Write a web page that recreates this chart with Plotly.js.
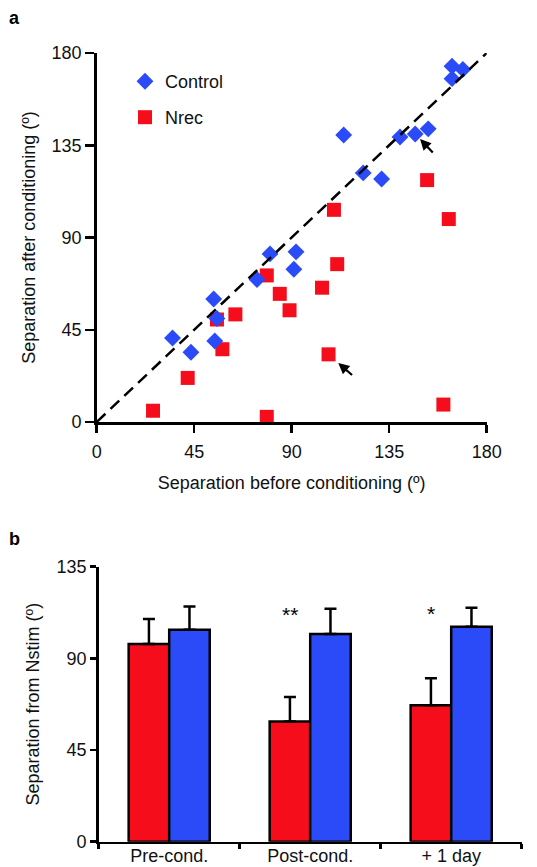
<!DOCTYPE html>
<html><head><meta charset="utf-8">
<script src="https://cdn.plot.ly/plotly-3.0.1.min.js"></script>
<style>html,body{margin:0;padding:0;background:#fff}#chart{width:537px;height:867px}</style>
</head><body><div id="chart"></div>
<script>
// Panel a: separation before vs after conditioning (degrees)
const controlBefore = [164, 169, 164, 114, 140, 147, 153, 123, 131.5, 80, 92, 91, 74, 54, 55.5, 54.5, 35, 43.5];
const controlAfter  = [173.5, 172, 167.5, 140, 139, 140.5, 143, 121.5, 118.5, 82, 83, 74.5, 69.5, 60, 50.5, 39.5, 41, 34];
const nrecBefore = [180.5, 152.5, 162.5, 109.5, 78.5, 111, 104, 84.5, 89, 64, 55.5, 58, 107, 42, 26, 78.5, 160];
const nrecAfter  = [147.5, 118, 99, 103.5, 71.5, 77, 65.5, 62.5, 54.5, 52.5, 50, 35.5, 33, 21.5, 5.5, 2.5, 8.5];
const identityLine = [0, 180];
const angleTicks = [0, 45, 90, 135, 180];

// Panel b: separation from Nstim (degrees), mean + s.e.m.
const conditions = ['Pre-cond.', 'Post-cond.', '+ 1 day'];
const nrecMean = [97, 59, 67];
const nrecSem = [12.3, 12, 13.3];
const controlMean = [104, 102, 105.5];
const controlSem = [11.5, 12.4, 9.4];
const barTicks = [0, 45, 90, 135];
const significance = ['', '**', '*'];

const RED = '#f50d1c';
const BLUE = '#2a4bf7';
const FONT = 'Liberation Sans, Arial, Helvetica, sans-serif';
const FS = 18;
const W = 537, H = 867;
const px = v => v / W;
const py = v => 1 - v / H;

const traces = [
  {
    x: nrecBefore, y: nrecAfter, type: 'scatter', mode: 'markers', name: 'Nrec',
    xaxis: 'x', yaxis: 'y', legend: 'legend2', cliponaxis: false,
    marker: {symbol: 'square', size: 14, color: RED, line: {width: 0}}
  },
  {
    x: controlBefore, y: controlAfter, type: 'scatter', mode: 'markers', name: 'Control',
    xaxis: 'x', yaxis: 'y', legend: 'legend', cliponaxis: false,
    marker: {symbol: 'diamond', size: 13, color: BLUE, line: {width: 0}}
  },
  {
    x: identityLine, y: identityLine, type: 'scatter', mode: 'lines', showlegend: false,
    xaxis: 'x', yaxis: 'y', hoverinfo: 'skip',
    line: {color: '#000', width: 2.5, dash: '12px,7px'}
  },
  {
    x: conditions, y: nrecMean, type: 'bar', name: 'Nrec', showlegend: false,
    xaxis: 'x2', yaxis: 'y2',
    marker: {color: RED, line: {color: '#000', width: 2.5}},
    error_y: {type: 'data', symmetric: false, array: nrecSem, arrayminus: nrecSem.map(() => 0),
              color: '#000', thickness: 2.5, width: 6}
  },
  {
    x: conditions, y: controlMean, type: 'bar', name: 'Control', showlegend: false,
    xaxis: 'x2', yaxis: 'y2',
    marker: {color: BLUE, line: {color: '#000', width: 2.5}},
    error_y: {type: 'data', symmetric: false, array: controlSem, arrayminus: controlSem.map(() => 0),
              color: '#000', thickness: 2.5, width: 6}
  }
];

const axisCommon = {
  showline: true, linecolor: '#000', linewidth: 2.5, showgrid: false, zeroline: false,
  ticks: 'outside', tickcolor: '#000', tickwidth: 2.5, ticklen: 8,
  tickfont: {family: FONT, size: FS, color: '#111'}, fixedrange: true
};
const titleFont = {family: FONT, size: FS, color: '#111'};

const annotations = [
  {text: '<b>a</b>', xref: 'paper', yref: 'paper', x: px(7), y: py(18), xanchor: 'left', yanchor: 'middle',
   showarrow: false, font: {family: FONT, size: 18, color: '#000'}},
  {text: '<b>b</b>', xref: 'paper', yref: 'paper', x: px(7), y: py(539), xanchor: 'left', yanchor: 'middle',
   showarrow: false, font: {family: FONT, size: 18, color: '#000'}},
  {xref: 'x', yref: 'y', x: controlBefore[5], y: controlAfter[5], ax: 19, ay: 20, text: '',
   showarrow: true, arrowhead: 2, arrowsize: 1, arrowwidth: 2.2, arrowcolor: '#000', standoff: 7},
  {xref: 'x', yref: 'y', x: nrecBefore[12], y: nrecAfter[12], ax: 25, ay: 22, text: '',
   showarrow: true, arrowhead: 2, arrowsize: 1, arrowwidth: 2.2, arrowcolor: '#000', standoff: 13}
];
significance.forEach((s, i) => {
  if (s) annotations.push({
    text: s, xref: 'x2', yref: 'y2', x: conditions[i], y: controlMean[i] + controlSem[i],
    xshift: -20.5, yshift: -6, yanchor: 'middle', showarrow: false, font: {family: FONT, size: 21, color: '#000'}
  });
});

const layout = {
  width: W, height: H, margin: {l: 0, r: 0, t: 0, b: 0},
  paper_bgcolor: '#fff', plot_bgcolor: 'rgba(0,0,0,0)',
  font: {family: FONT, size: FS, color: '#111'},
  barmode: 'group', bargap: 0.425, bargroupgap: 0,
  xaxis: Object.assign({}, axisCommon, {
    domain: [px(96.7), px(486.7)], anchor: 'y', range: [0, 180], tickvals: angleTicks,
    ticklabelstandoff: 4,
    title: {text: 'Separation before conditioning (º)', font: titleFont, standoff: 16}
  }),
  yaxis: Object.assign({}, axisCommon, {
    domain: [py(422), py(53)], anchor: 'x', range: [0, 180], tickvals: angleTicks, ticklen: 9,
    title: {text: 'Separation after conditioning (º)', font: titleFont, standoff: 12}
  }),
  xaxis2: Object.assign({}, axisCommon, {
    domain: [px(98.7), px(521.7)], anchor: 'y2', type: 'category', tickson: 'boundaries', ticklen: 5,
    ticklabelstandoff: -4
  }),
  yaxis2: Object.assign({}, axisCommon, {
    domain: [py(841.7), py(566.7)], anchor: 'x2', range: [0, 135], tickvals: barTicks, ticklen: 6,
    title: {text: 'Separation from Nstim (º)', font: titleFont, standoff: 12}
  }),
  legend: {x: px(125), y: py(63), xanchor: 'left', yanchor: 'top', bgcolor: 'rgba(0,0,0,0)',
           font: {family: FONT, size: FS, color: '#111'}},
  legend2: {x: px(125), y: py(99), xanchor: 'left', yanchor: 'top', bgcolor: 'rgba(0,0,0,0)',
            font: {family: FONT, size: FS, color: '#111'}},
  annotations: annotations
};

Plotly.newPlot('chart', traces, layout, {staticPlot: true, displayModeBar: false});
</script>
</body></html>
